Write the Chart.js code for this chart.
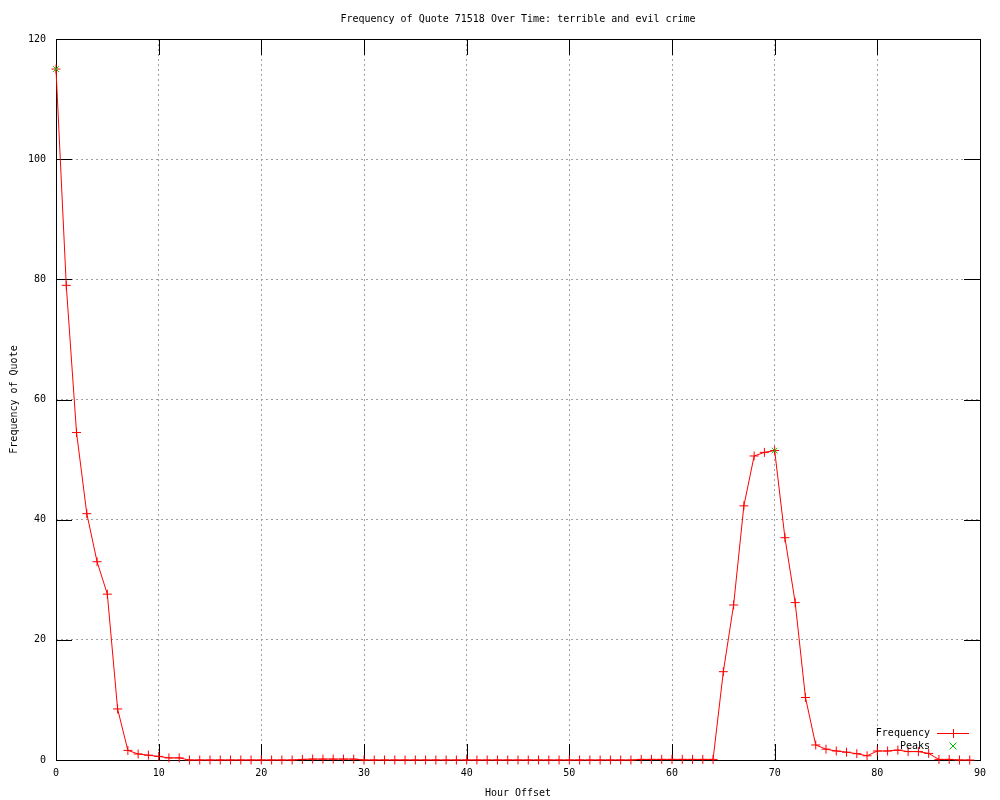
<!DOCTYPE html>
<html>
<head>
<meta charset="utf-8">
<script src="https://cdn.jsdelivr.net/npm/chart.js@4/dist/chart.umd.min.js"></script>
<style>
body { margin: 0; background: #fff; }
#wrap { width: 1000px; height: 800px; }
</style>
</head>
<body>
<div id="wrap"><canvas id="quoteChart"></canvas></div>
<script>
var hours = [
	0, 1, 2, 3, 4, 5, 6, 7, 8, 9, 10, 11, 12, 13, 14, 15, 16, 17, 18, 19,
	20, 21, 22, 23, 24, 25, 26, 27, 28, 29, 30, 31, 32, 33, 34, 35, 36, 37, 38, 39,
	40, 41, 42, 43, 44, 45, 46, 47, 48, 49, 50, 51, 52, 53, 54, 55, 56, 57, 58, 59,
	60, 61, 62, 63, 64, 65, 66, 67, 68, 69, 70, 71, 72, 73, 74, 75, 76, 77, 78, 79,
	80, 81, 82, 83, 84, 85, 86, 87, 88, 89,
];
var frequency = [
	115, 79, 54.5, 41, 33, 27.6, 8.5, 1.6, 1.0, 0.8, 0.6, 0.35, 0.35, 0, 0, 0, 0, 0, 0, 0,
	0, 0, 0, 0, 0.1, 0.15, 0.15, 0.15, 0.15, 0.15, 0, 0, 0, 0, 0, 0, 0, 0, 0, 0,
	0, 0, 0, 0, 0, 0, 0, 0, 0, 0, 0, 0, 0, 0, 0, 0, 0, 0.1, 0.1, 0.1,
	0.1, 0.1, 0.1, 0.1, 0.1, 14.7, 25.8, 42.3, 50.6, 51.2, 51.5, 37.0, 26.2, 10.4, 2.5, 1.8, 1.5, 1.3, 1.05, 0.7,
	1.5, 1.5, 1.65, 1.4, 1.4, 1.1, 0.1, 0.1, 0, 0,
];
var peakHours = [0, 70];
var peakValues = [115, 51.5];
var xTicks = [0, 10, 20, 30, 40, 50, 60, 70, 80, 90];
var yTicks = [0, 20, 40, 60, 80, 100, 120];

var monoFont = { family: "'DejaVu Sans Mono', monospace", size: 10, weight: "normal" };

// gnuplot style box with inward ticks on all four sides
var framePlugin = {
	id: "frame",
	beforeDatasetsDraw: function (chart) {
		var ctx = chart.ctx;
		var a = chart.chartArea;
		var xs = chart.scales.x;
		var ys = chart.scales.y;
		ctx.save();
		ctx.strokeStyle = "#000";
		ctx.lineWidth = 1;
		ctx.setLineDash([]);
		ctx.beginPath();
		xTicks.forEach(function (v) {
			var px = Math.round(xs.getPixelForValue(v)) + 0.5;
			ctx.moveTo(px, a.bottom);
			ctx.lineTo(px, a.bottom - 16);
			ctx.moveTo(px, a.top);
			ctx.lineTo(px, a.top + 16);
		});
		yTicks.forEach(function (v) {
			var py = Math.round(ys.getPixelForValue(v)) + 0.5;
			ctx.moveTo(a.left, py);
			ctx.lineTo(a.left + 16, py);
			ctx.moveTo(a.right, py);
			ctx.lineTo(a.right - 16, py);
		});
		ctx.stroke();
		ctx.strokeRect(Math.round(a.left) + 0.5, Math.round(a.top) + 0.5,
			Math.round(a.right - a.left), Math.round(a.bottom - a.top));
		ctx.restore();
	},
	afterDraw: function (chart) {
		var ctx = chart.ctx;
		var a = chart.chartArea;
		var textX = a.right - 50;
		var y1 = Math.round(a.bottom - 27);
		var y2 = Math.round(a.bottom - 14);
		var mx = Math.round(a.right - 27);
		ctx.save();
		ctx.setLineDash([]);
		ctx.font = "10px 'DejaVu Sans Mono', monospace";
		ctx.fillStyle = "#000";
		ctx.textAlign = "right";
		ctx.textBaseline = "middle";
		ctx.fillText("Frequency", textX, y1);
		ctx.fillText("Peaks", textX, y2);
		// legend sample: red line with a + marker
		ctx.fillStyle = "#ff0000";
		ctx.fillRect(Math.round(a.right - 43), y1, 32, 1);
		ctx.fillRect(mx, y1 - 4, 1, 9);
		ctx.lineWidth = 1;
		ctx.strokeStyle = "#00c000";
		ctx.beginPath();
		ctx.moveTo(mx - 3.5, y2 - 3.5);
		ctx.lineTo(mx + 3.5, y2 + 3.5);
		ctx.moveTo(mx + 3.5, y2 - 3.5);
		ctx.lineTo(mx - 3.5, y2 + 3.5);
		ctx.stroke();
		ctx.restore();
	},
};

var ctx = document.getElementById("quoteChart").getContext("2d");
new Chart(ctx, {
	type: "line",
	data: {
		datasets: [
			{
				label: "Peaks",
				data: peakHours.map(function (h, i) { return { x: h, y: peakValues[i] }; }),
				showLine: false,
				pointStyle: "crossRot",
				pointRadius: 4,
				pointBorderColor: "#00c000",
				pointBorderWidth: 1,
				order: 0,
				clip: false,
			},
			{
				label: "Frequency",
				data: hours.map(function (h, i) { return { x: h, y: frequency[i] }; }),
				borderColor: "#ff0000",
				borderWidth: 1,
				tension: 0,
				pointStyle: "cross",
				pointRadius: 4.5,
				pointBorderColor: "#ff0000",
				pointBorderWidth: 1,
				order: 1,
				clip: false,
			},
		],
	},
	options: {
		responsive: true,
		maintainAspectRatio: false,
		animation: false,
		layout: { padding: { left: 0, right: 20, top: 0, bottom: 0 } },
		plugins: {
			legend: { display: false },
			tooltip: { enabled: false },
			title: {
				display: true,
				text: "Frequency of Quote 71518 Over Time: terrible and evil crime",
				fullSize: false,
				color: "#000",
				font: monoFont,
				padding: { top: 13, bottom: 14 },
			},
		},
		scales: {
			x: {
				type: "linear",
				min: 0,
				max: 90,
				afterFit: function (scale) { scale.height = 40; },
				afterBuildTicks: function (scale) {
					scale.ticks = xTicks.map(function (v) { return { value: v }; });
				},
				ticks: { color: "#000", font: monoFont, padding: 7, maxRotation: 0 },
				grid: { color: "#a0a0a0", drawTicks: false },
				border: { display: false, dash: [2, 3] },
				title: { display: true, text: "Hour Offset", color: "#000", font: monoFont, padding: { top: 0, bottom: 1 } },
			},
			y: {
				min: 0,
				max: 120,
				afterFit: function (scale) { scale.width = 56; },
				afterBuildTicks: function (scale) {
					scale.ticks = yTicks.map(function (v) { return { value: v }; });
				},
				ticks: { color: "#000", font: monoFont, padding: 10 },
				grid: { color: "#a0a0a0", drawTicks: false },
				border: { display: false, dash: [2, 3] },
				title: { display: true, text: "Frequency of Quote", color: "#000", font: monoFont, padding: { top: 8, bottom: 0 } },
			},
		},
	},
	plugins: [framePlugin],
});
</script>
</body>
</html>
